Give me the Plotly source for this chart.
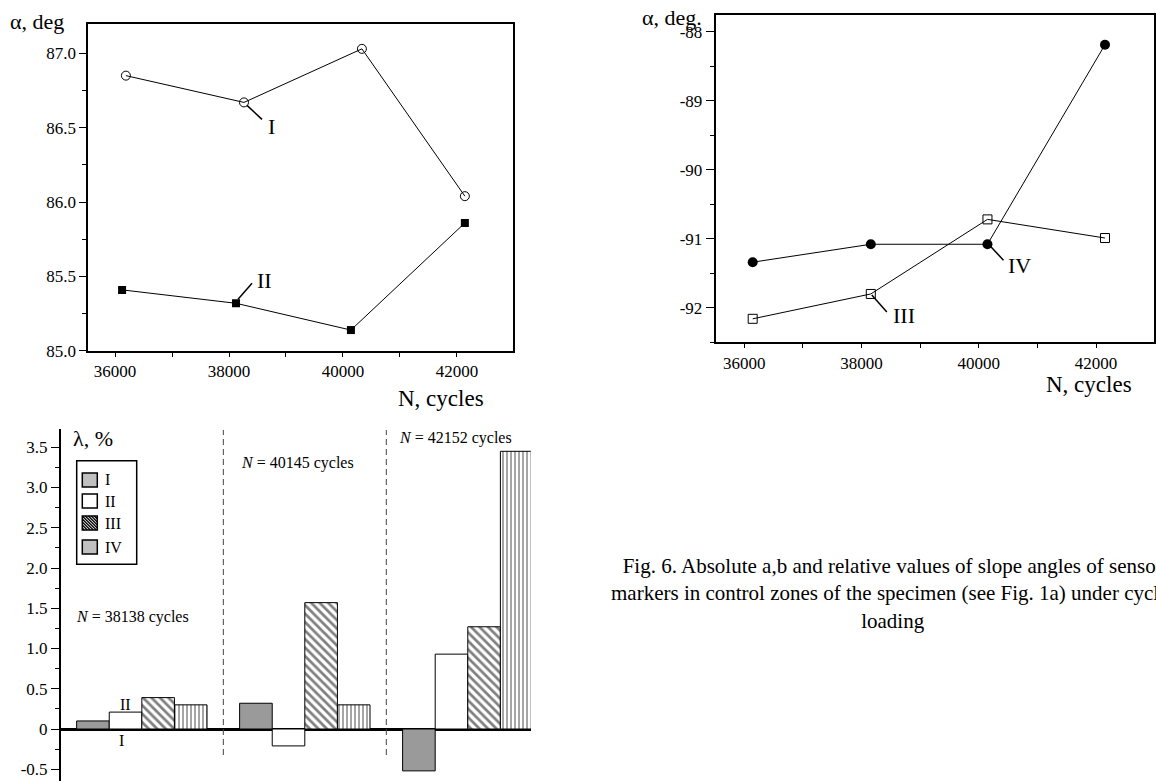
import plotly.graph_objects as go

W, H = 1156, 781
FONT = "Liberation Serif"

# ---------------- data ----------------
# (a) absolute slope angles, zones I and II
n_I = [36190, 38263, 40333, 42140]
alpha_I = [86.85, 86.67, 87.03, 86.04]
n_II = [36123, 38123, 40140, 42140]
alpha_II = [85.41, 85.32, 85.14, 85.86]

# (b) absolute slope angles, zones III and IV
n_III = [36143, 38158, 40148, 42153]
alpha_III = [-92.16, -91.80, -90.72, -90.99]
n_IV = [36143, 38158, 40148, 42153]
alpha_IV = [-91.34, -91.08, -91.08, -88.19]

# (c) relative values, %
groups = ["38138", "40145", "42152"]
lam_I = [0.10, 0.32, -0.52]
lam_II = [0.21, -0.21, 0.93]
lam_III = [0.39, 1.57, 1.27]
lam_IV = [0.30, 0.30, 3.45]

yt_a = [85.0, 85.5, 86.0, 86.5, 87.0]
yt_b = [-92, -91, -90, -89, -88]
yt_c = [-0.5, 0, 0.5, 1.0, 1.5, 2.0, 2.5, 3.0, 3.5]
xt = [36000, 38000, 40000, 42000]


def px(x):
    return x / W


def py(y):
    return 1 - y / H


fig = go.Figure()

line_style = dict(color="black", width=1)

fig.add_trace(go.Scatter(x=n_I, y=alpha_I, mode="lines+markers", line=line_style,
                         marker=dict(symbol="circle-open", size=9, color="black", line=dict(width=1)),
                         xaxis="x", yaxis="y", showlegend=False))
fig.add_trace(go.Scatter(x=n_II, y=alpha_II, mode="lines+markers", line=line_style,
                         marker=dict(symbol="square", size=8, color="black"),
                         xaxis="x", yaxis="y", showlegend=False))
fig.add_trace(go.Scatter(x=n_III, y=alpha_III, mode="lines+markers", line=line_style,
                         marker=dict(symbol="square-open", size=9, color="black", line=dict(width=1)),
                         xaxis="x2", yaxis="y2", showlegend=False))
fig.add_trace(go.Scatter(x=n_IV, y=alpha_IV, mode="lines+markers", line=line_style,
                         marker=dict(symbol="circle", size=10, color="black"),
                         xaxis="x2", yaxis="y2", showlegend=False))

bar_line = dict(color="black", width=1)
fig.add_trace(go.Bar(x=groups, y=lam_I, marker=dict(color="#9a9a9a", line=bar_line),
                     xaxis="x3", yaxis="y3", showlegend=False))
fig.add_trace(go.Bar(x=groups, y=lam_II, marker=dict(color="white", line=bar_line),
                     xaxis="x3", yaxis="y3", showlegend=False))
fig.add_trace(go.Bar(x=groups, y=lam_III,
                     marker=dict(color="white", line=bar_line,
                                 pattern=dict(shape="\\", fgcolor="black", bgcolor="white",
                                              size=6, solidity=0.45)),
                     xaxis="x3", yaxis="y3", showlegend=False))
fig.add_trace(go.Bar(x=groups, y=lam_IV,
                     marker=dict(color="white", line=bar_line,
                                 pattern=dict(shape="|", fgcolor="black", bgcolor="white",
                                              size=4, solidity=0.35)),
                     xaxis="x3", yaxis="y3", showlegend=False))

tickfont = dict(family=FONT, size=17, color="black")

fig.update_layout(
    width=W, height=H, margin=dict(l=0, r=0, t=0, b=0, autoexpand=False),
    paper_bgcolor="white", plot_bgcolor="white",
    font=dict(family=FONT, color="black", size=17),
    barmode="group", bargap=0.2, bargroupgap=0,
    xaxis=dict(domain=[px(88.3), px(513)], range=[35530, 42985], tickvals=xt, tickformat="d",
               ticks="outside", ticklen=4, tickcolor="black", tickfont=tickfont,
               showline=True, linewidth=2, linecolor="black", mirror=True,
               showgrid=False, zeroline=False, automargin=False,
               minor=dict(dtick=1000, tick0=0, ticks="outside", ticklen=4, tickcolor="black", showgrid=False),
               anchor="y"),
    yaxis=dict(domain=[py(350.9), py(24.3)], range=[85.0, 87.195], tickvals=yt_a,
               ticktext=[f"{v:.1f}" for v in yt_a],
               ticks="outside", ticklen=7, tickcolor="black", tickfont=tickfont,
               showline=True, linewidth=2, linecolor="black", mirror=True,
               showgrid=False, zeroline=False, automargin=False,
               minor=dict(dtick=0.25, tick0=0, ticks="outside", ticklen=4, tickcolor="black", showgrid=False),
               anchor="x"),
    xaxis2=dict(domain=[px(715.7), px(1153.7)], range=[35512, 42984], tickvals=xt, tickformat="d",
                ticks="outside", ticklen=4, tickcolor="black", tickfont=tickfont,
                showline=True, linewidth=2, linecolor="black", mirror=True,
                showgrid=False, zeroline=False, automargin=False,
                minor=dict(dtick=1000, tick0=0, ticks="outside", ticklen=4, tickcolor="black", showgrid=False),
                anchor="y2"),
    yaxis2=dict(domain=[py(342.3), py(15)], range=[-92.5, -87.76], tickvals=yt_b,
                ticktext=[f"-{abs(v)}" for v in yt_b],
                ticks="outside", ticklen=8, tickcolor="black", tickfont=tickfont,
                showline=True, linewidth=2, linecolor="black", mirror=True,
                showgrid=False, zeroline=False, automargin=False,
                minor=dict(dtick=0.5, tick0=0, ticks="outside", ticklen=4, tickcolor="black", showgrid=False),
                anchor="x2"),
    xaxis3=dict(domain=[px(61), px(530.7)], range=[-0.496, 2.386], type="category",
                showticklabels=False, ticks="", showline=False, showgrid=False, zeroline=False,
                automargin=False, anchor="y3"),
    yaxis3=dict(domain=[0, py(429)], range=[-0.646, 3.727], tickvals=yt_c,
                ticktext=[("0" if v == 0 else (f"-{abs(v):.1f}" if v < 0 else f"{v:.1f}")) for v in yt_c],
                ticks="outside", ticklen=8, tickcolor="black", tickfont=tickfont,
                showline=True, linewidth=2, linecolor="black", mirror=False,
                showgrid=False, zeroline=True, zerolinecolor="black", zerolinewidth=2.5,
                automargin=False,
                minor=dict(dtick=0.25, tick0=0, ticks="outside", ticklen=4, tickcolor="black", showgrid=False),
                anchor="x3"),
)

shapes = []
annotations = []


def text(x, y, s, size, xanchor="center", yanchor="middle", **kw):
    annotations.append(dict(x=x, y=y, xref="paper", yref="paper", text=s, showarrow=False,
                            xanchor=xanchor, yanchor=yanchor,
                            font=dict(family=FONT, size=size, color="black"), **kw))


def leader(xr, yr, xa, ya, dx0, dy0, dx1, dy1):
    shapes.append(dict(type="line", xref=xr, yref=yr, xsizemode="pixel", ysizemode="pixel",
                       xanchor=xa, yanchor=ya, x0=dx0, x1=dx1, y0=dy0, y1=dy1,
                       line=dict(color="black", width=1.5)))


def series_label(xr, yr, xa, ya, s, dx, dy):
    annotations.append(dict(x=xa, y=ya, xref=xr, yref=yr, text=s, showarrow=False,
                            xshift=dx, yshift=dy,
                            font=dict(family=FONT, size=22, color="black")))


# series labels with leader lines
leader("x", "y", n_I[1], alpha_I[1], 3, -3, 18, -17)
series_label("x", "y", n_I[1], alpha_I[1], "I", 28, -24)
leader("x", "y", n_II[1], alpha_II[1], 2, 4, 16, 20)
series_label("x", "y", n_II[1], alpha_II[1], "II", 28, 23)
leader("x2", "y2", n_III[1], alpha_III[1], 1, -1, 16, -18)
series_label("x2", "y2", n_III[1], alpha_III[1], "III", 33, -22)
leader("x2", "y2", n_IV[2], alpha_IV[2], 3, -2, 16, -16)
series_label("x2", "y2", n_IV[2], alpha_IV[2], "IV", 32, -21)

# axis titles
text(px(8), py(21), "α, deg", 22, xanchor="left")
text(px(441), py(398), "N, cycles", 23, xanchor="center")
text(px(640), py(17), "α, deg.", 22, xanchor="left")
text(px(1089), py(384), "N, cycles", 23, xanchor="center")
text(px(71), py(438), "λ, %", 22, xanchor="left")

# group separators (between category groups)
for xsep in [0.5, 1.5]:
    shapes.append(dict(type="line", xref="x3", yref="y3", x0=xsep, x1=xsep, y0=-0.323, y1=3.715,
                       line=dict(color="#444444", width=1, dash="6px,4px")))

# group annotations
text(px(74), py(617), "<i>N</i> = 38138 cycles", 16, xanchor="left")
text(px(239), py(463), "<i>N</i> = 40145 cycles", 16, xanchor="left")
text(px(397), py(438), "<i>N</i> = 42152 cycles", 16, xanchor="left")
text(px(125), py(704), "II", 16)
text(px(121), py(740), "I", 16)

# legend box (manual)
shapes.append(dict(type="rect", xref="paper", yref="paper", x0=px(76.7), x1=px(136.7),
                   y0=py(564.3), y1=py(460.7), line=dict(color="black", width=1.5), fillcolor="white"))
rows = [("I", 480, "#c0c0c0"), ("II", 501, "white"), ("III", 523, "white"), ("IV", 547, "#c0c0c0")]
sx0, sx1 = 82.3, 97.3
for lab, yc, col in rows:
    y0, y1 = yc - 7, yc + 7
    shapes.append(dict(type="rect", xref="paper", yref="paper", x0=px(sx0), x1=px(sx1),
                       y0=py(y1), y1=py(y0), line=dict(color="black", width=1.5), fillcolor=col))
    if lab == "III":
        # backslash hatch clipped to the swatch (screen coords, y down)
        for c in range(-12, 16, 3):
            pts = []
            for yy in (y0, y1):
                xx = sx0 + c + (yy - y0)
                pts.append((xx, yy))
            (xa, ya), (xb, yb) = pts
            if xa < sx0:
                ya += sx0 - xa
                xa = sx0
            if xb > sx1:
                yb -= xb - sx1
                xb = sx1
            if xa < xb and ya < yb and xa <= sx1 and xb >= sx0:
                shapes.append(dict(type="line", xref="paper", yref="paper", x0=px(xa), x1=px(xb),
                                   y0=py(ya), y1=py(yb), line=dict(color="black", width=1.3)))
    text(px(103), py(yc), lab, 16, xanchor="left")

# caption
text(px(892), py(593), "Fig. 6. Absolute a,b and relative values of slope angles of sensor<br>"
     "markers in control zones of the specimen (see Fig. 1a) under cyclic<br>loading",
     21, xanchor="center", align="center")

fig.update_layout(shapes=shapes, annotations=annotations)
fig.write_html("out.html",
               config={"displayModeBar": False},
               post_script="document.body.style.margin='0';document.body.style.overflow='hidden';")
